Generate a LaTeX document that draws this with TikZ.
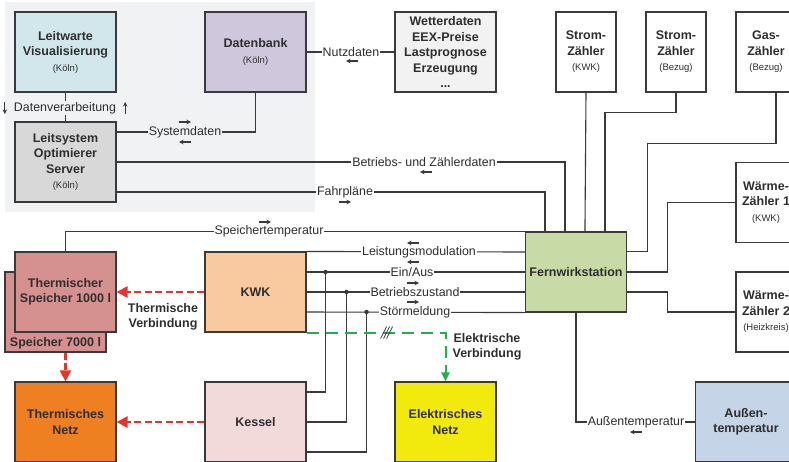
\documentclass[tikz,border=0pt]{standalone}
\usepackage{fontspec}
\setmainfont{Liberation Sans}
\usetikzlibrary{arrows.meta,calc}

\definecolor{linegray}{HTML}{3A3A3A}
\definecolor{textgray}{HTML}{2E2E2E}
\definecolor{bggray}{HTML}{F1F2F4}
\definecolor{cleitwarte}{HTML}{D2E7EC}
\definecolor{cleitsystem}{HTML}{D8D8D8}
\definecolor{cdatenbank}{HTML}{CFC8DC}
\definecolor{cwetter}{HTML}{F2F2F2}
\definecolor{cspeicher}{HTML}{D5918F}
\definecolor{ckwk}{HTML}{F9C9A0}
\definecolor{cfws}{HTML}{C8DBA6}
\definecolor{cthnetz}{HTML}{EF8022}
\definecolor{ckessel}{HTML}{F2DADA}
\definecolor{celnetz}{HTML}{F2EA0D}
\definecolor{caussen}{HTML}{C5D4E6}
\definecolor{thermred}{HTML}{E8322B}
\definecolor{elgreen}{HTML}{22B04B}

\newcommand{\ort}[1]{{\mdseries\fontsize{9.5}{12}\selectfont #1}}

\tikzset{
  box/.style={draw=linegray, line width=1.1pt, minimum width=101, minimum height=80,
    inner sep=2pt, align=center, text=textgray,
    font=\bfseries\fontsize{12.5}{15.5}\selectfont},
  meter/.style={box, fill=white, minimum width=60},
  lbl/.style={fill=white, inner sep=1pt, text=textgray,
    font=\fontsize{12.4}{14}\selectfont},
  wire/.style={draw=linegray, line width=1.1pt},
  flow/.style={draw=linegray, line width=1.2pt, -{Stealth[length=4.5pt,width=4.5pt]}},
  thermo/.style={draw=thermred, line width=2.6pt, dash pattern=on 7pt off 3.5pt,
    -{Triangle[length=11pt,width=11pt]}},
  elec/.style={draw=elgreen, line width=2pt, dash pattern=on 12pt off 7pt},
}

\begin{document}
\begin{tikzpicture}[x=1pt,y=-1pt]
    \useasboundingbox (0,0) rectangle (789,461);
    \clip (0,0) rectangle (789,461);

    % Leitstelle Koeln
    \fill[bggray] (5,2) rectangle (315,212);

    \node[box, fill=cleitwarte] (leitwarte) at (65.5,52) {Leitwarte\\Visualisierung\\\ort{(Köln)}};
    \node[box, fill=cleitsystem] (leitsystem) at (65.5,162) {Leitsystem\\Optimierer\\Server\\\ort{(Köln)}};
    \node[box, fill=cdatenbank] (datenbank) at (255.5,52) {Datenbank\\\ort{(Köln)}};
    \node[box, fill=cwetter] (wetter) at (445.5,52) {Wetterdaten\\EEX-Preise\\Lastprognose\\Erzeugung\\...};

    % Zaehler
    \node[meter] (stromkwk) at (586,52) {Strom-\\Zähler\\\ort{(KWK)}};
    \node[meter] (strombezug) at (676,52) {Strom-\\Zähler\\\ort{(Bezug)}};
    \node[meter] (gas) at (766,52) {Gas-\\Zähler\\\ort{(Bezug)}};
    \node[meter] (waerme1) at (766,202.5) {Wärme-\\Zähler 1\\\ort{(KWK)}};
    \node[meter] (waerme2) at (766,312) {Wärme-\\Zähler 2\\\ort{(Heizkreis)}};

    \node[box, fill=cfws] (fws) at (576,272) {Fernwirkstation};

    % Anlage
    \node[box, fill=cspeicher] (speicherB) at (55.5,312) {};
    \node[text=textgray, font=\bfseries\fontsize{12.5}{15.5}\selectfont] (speicherBtxt)
        at ($(speicherB.south)+(0,-9)$) {Speicher 7000 l};
    \node[box, fill=cspeicher] (speicherA) at (65.5,292) {Thermischer\\Speicher 1000 l};
    \node[box, fill=ckwk] (kwk) at (255.5,292) {KWK};
    \node[box, fill=ckessel] (kessel) at (255.5,422) {Kessel};
    \node[box, fill=cthnetz] (thnetz) at (65.5,422) {Thermisches\\Netz};
    \node[box, fill=celnetz] (elnetz) at (445.5,422) {Elektrisches\\Netz};
    \node[box, fill=caussen] (aussen) at (746,422) {Außen-\\temperatur};

    % Datenleitungen Leitstelle
    \draw[wire] (leitwarte.south) -- (leitsystem.north);
    \draw[wire] ($(leitsystem.east)+(0,-30)$) -| (datenbank.south);
    \draw[wire] (datenbank.east) -- (wetter.west);
    \draw[wire] (leitsystem.east) -| ($(fws.north west)+(40,0)$);
    \draw[wire] ($(leitsystem.east)+(0,30)$) -| ($(fws.north west)+(20,0)$);
    \draw[wire] (speicherA.north) |- (fws.north west);

    % Zaehler an Fernwirkstation
    \draw[wire] (stromkwk.south) -- ($(fws.north west)+(60,0)$);
    \draw[wire] (strombezug.south) -- ++(0,20) -| ($(fws.north west)+(80,0)$);
    \draw[wire] ($(gas.south)+(10,0)$) -- ++(0,51) -| ($(fws.north east)+(20,20)$) -- ($(fws.north east)+(0,20)$);
    \draw[wire] (waerme1.west) -| ($(fws.east)+(40,0)$) -- (fws.east);
    \draw[wire] ($(fws.east)+(0,20)$) -| ($(fws.east)+(40,40)$) -- (waerme2.west);
    \draw[wire] (aussen.west) -| (fws.south);

    % KWK und Kessel
    \draw[wire] (kwk.north east) -- ($(fws.west)+(0,-20)$);
    \draw[wire] ($(kwk.east)+(0,-20)$) -- (fws.west);
    \draw[wire] (kwk.east) -- ($(fws.west)+(0,20)$);
    \draw[wire] ($(kwk.east)+(0,20)$) -- (fws.south west);
    \coordinate (j1) at ($(kwk.east)+(19,-20)$);
    \coordinate (j2) at ($(kwk.east)+(40,0)$);
    \coordinate (j3) at ($(kwk.east)+(60,20)$);
    \draw[wire] (j1) |- ($(kessel.east)+(0,-30)$);
    \draw[wire] (j2) |- (kessel.east);
    \draw[wire] (j3) |- ($(kessel.east)+(0,30)$);
    \foreach \j in {j1,j2,j3}
        \fill[linegray] (\j) circle (2.2);

    % Beschriftungen
    \node[lbl, fill=bggray] (dv) at (65,108) {Datenverarbeitung};
    \node[lbl, fill=bggray] (sd) at (185,132) {Systemdaten};
    \node[lbl] (nd) at (351,52) {Nutzdaten};
    \node[lbl] (bd) at (424,162) {Betriebs- und Zählerdaten};
    \node[lbl] (fp) at (345,192) {Fahrpläne};
    \node[lbl] (st) at (269,231) {Speichertemperatur};
    \node[lbl] (lm) at (419,252) {Leistungsmodulation};
    \node[lbl] (ea) at (412,272) {Ein/Aus};
    \node[lbl] (bs) at (415,292) {Betriebszustand};
    \node[lbl] (sm) at (415,312) {Störmeldung};
    \node[lbl] (at) at (636,422) {Außentemperatur};

    % Richtungspfeile
    \draw[flow] ($(dv.west)+(-8,-6)$) -- ++(0,12);
    \draw[flow] ($(dv.east)+(8,6)$) -- ++(0,-12);
    \draw[flow] ($(sd)+(-6,-10)$) -- ++(12,0);
    \draw[flow] ($(sd)+(6,10)$) -- ++(-12,0);
    \draw[flow] ($(nd)+(7,9)$) -- ++(-12,0);
    \draw[flow] ($(bd)+(8,10)$) -- ++(-12,0);
    \draw[flow] ($(fp)+(-6,10)$) -- ++(12,0);
    \draw[flow] ($(st)+(-10,-9)$) -- ++(12,0);
    \draw[flow] ($(lm)+(0,-9)$) -- ++(-12,0);
    \draw[flow] ($(ea)+(7,-10)$) -- ++(-12,0);
    \draw[flow] ($(bs)+(-8,-9)$) -- ++(12,0);
    \draw[flow] ($(sm)+(-8,-10)$) -- ++(12,0);
    \draw[flow] ($(at)+(6,10)$) -- ++(-12,0);

    % thermische Verbindung
    \draw[thermo] (kwk.west) -- (speicherA.east);
    \draw[thermo] (kessel.west) -- (thnetz.east);
    \draw[thermo] (speicherB.south -| thnetz.north) -- (thnetz.north);
    \node[text=textgray, align=center, font=\bfseries\fontsize{12.5}{14.5}\selectfont] (thv)
        at (163,317) {Thermische\\Verbindung};

    % elektrische Verbindung
    \draw[elec] (kwk.south east) -| ($(elnetz.north)+(0,-12)$);
    \draw[elgreen, line width=2pt, -{Triangle[length=9pt,width=8pt]}]
        ($(elnetz.north)+(0,-14)$) -- (elnetz.north);
    \foreach \i in {0,3,6}
        \draw[linegray, line width=0.8pt] ($(kwk.south east)+(74+\i,6)$) -- ++(6,-12);
    \node[text=textgray, align=center, font=\bfseries\fontsize{12.5}{14.5}\selectfont] (elv)
        at (487,347) {Elektrische\\Verbindung};
\end{tikzpicture}
\end{document}
